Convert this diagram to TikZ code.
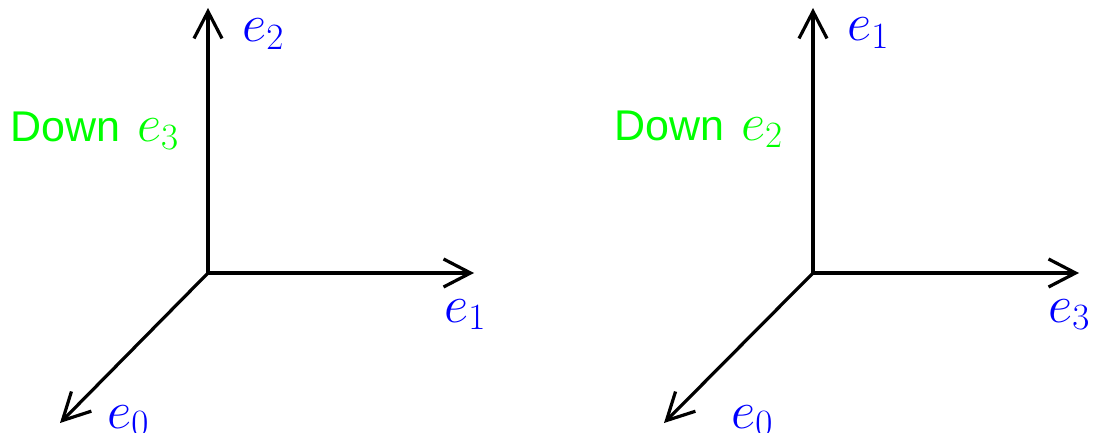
\RequirePackage{fix-cm}
\documentclass[tikz,border=0pt]{standalone}
\usepackage{fontspec}
\setsansfont{Liberation Sans}
\usetikzlibrary{arrows.meta}
\begin{document}
\begin{tikzpicture}[x=1pt,y=-1pt,
  axis/.style={line width=3.2pt,
    {Straight Barb[length=27pt,width=28pt,line width=3.2pt]}-{Straight Barb[length=27pt,width=28pt,line width=3.2pt]}},
  diag/.style={line width=3.2pt,
    -{Straight Barb[length=27pt,width=28pt,line width=3.2pt]}},
  vec/.style={text=blue, inner sep=0pt, anchor=base west,
    font=\fontsize{53}{60}\selectfont},
  down/.style={text=green, inner sep=0pt, anchor=base west,
    font=\sffamily\fontsize{43}{50}\selectfont}]
\useasboundingbox (0,0) rectangle (1094,433);

% first frame
\coordinate (o1) at (208,273);
\coordinate (u1) at (208,8);
\coordinate (r1) at (474,273);
\coordinate (d1) at (60,423);
\draw[axis] (u1) -- (o1) -- (r1);
\draw[diag] (o1) -- (d1);
\node[vec] (l1e2) at (242,42) {$e_2$};
\node[vec] (l1e1) at (444,322) {$e_1$};
\node[vec] (l1e0) at (107,428) {$e_0$};
\node[down] (l1dn) at (10,142) {Down\hspace{17pt}\fontsize{53}{60}\selectfont$e_3$};

% second frame
\coordinate (o2) at (813,273);
\coordinate (u2) at (813,8);
\coordinate (r2) at (1079,273);
\coordinate (d2) at (664,423);
\draw[axis] (u2) -- (o2) -- (r2);
\draw[diag] (o2) -- (d2);
\node[vec] (l2e1) at (847,41) {$e_1$};
\node[vec] (l2e3) at (1048,322) {$e_3$};
\node[vec] (l2e0) at (731,428) {$e_0$};
\node[down] (l2dn) at (614,140) {Down\hspace{17pt}\fontsize{53}{60}\selectfont$e_2$};
\end{tikzpicture}
\end{document}
